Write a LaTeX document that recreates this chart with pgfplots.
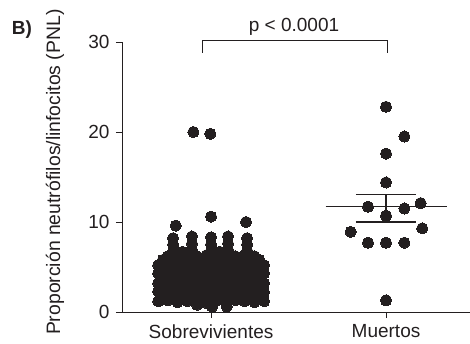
\documentclass[border=0pt]{standalone}
\usepackage{fontspec}
\setmainfont{Liberation Sans}
\usepackage{pgfplots}
\usepackage{pgfplotstable}
\pgfplotsset{compat=1.18}
\definecolor{ink}{HTML}{231F20}

% Sobrevivientes (x = group position with horizontal spread, y = PNL)
\pgfplotstableread{
x y
0.698 1.2
0.753 1.3
0.808 1.1
0.863 1.2
0.918 1.3
0.973 1.0
1.028 1.2
1.083 1.1
1.138 1.3
1.193 1.2
1.248 1.1
1.303 1.2
0.725 1.7
0.780 1.8
0.835 1.6
0.890 1.7
0.945 1.8
1.000 1.6
1.055 1.7
1.110 1.8
1.165 1.6
1.220 1.7
1.275 1.8
0.698 2.3
0.753 2.2
0.808 2.1
0.863 2.3
0.918 2.2
0.973 2.2
1.028 2.1
1.083 2.3
1.138 2.2
1.193 2.1
1.248 2.3
1.303 2.2
0.725 2.8
0.780 2.7
0.835 2.6
0.890 2.7
0.945 2.8
1.000 2.7
1.055 2.6
1.110 2.8
1.165 2.7
1.220 2.6
1.275 2.7
0.698 3.2
0.753 3.3
0.808 3.1
0.863 3.2
0.918 3.3
0.973 3.2
1.028 3.1
1.083 3.2
1.138 3.3
1.193 3.2
1.248 3.1
1.303 3.2
0.725 3.7
0.780 3.8
0.835 3.6
0.890 3.7
0.945 3.8
1.000 3.7
1.055 3.6
1.110 3.7
1.165 3.8
1.220 3.7
1.275 3.6
0.698 4.3
0.753 4.2
0.808 4.1
0.863 4.2
0.918 4.3
0.973 4.2
1.028 4.1
1.083 4.2
1.138 4.3
1.193 4.2
1.248 4.1
1.303 4.3
0.725 4.7
0.780 4.8
0.835 4.6
0.890 4.7
0.945 4.8
1.000 4.7
1.055 4.6
1.110 4.8
1.165 4.7
1.220 4.6
1.275 4.7
0.698 5.2
0.753 5.3
0.808 5.1
0.863 5.2
0.918 5.3
0.973 5.2
1.028 5.1
1.083 5.2
1.138 5.3
1.193 5.2
1.248 5.1
1.303 5.2
0.725 5.8
0.780 5.7
0.835 5.6
0.890 5.7
0.945 5.8
1.000 5.7
1.055 5.6
1.110 5.7
1.165 5.8
1.220 5.7
1.275 5.8
0.753 6.2
0.808 6.3
0.863 6.1
0.918 6.2
0.973 6.3
1.028 6.2
1.083 6.1
1.138 6.2
1.193 6.3
1.248 6.2
0.783 6.8
0.837 6.7
0.891 6.9
1.000 6.8
1.050 6.7
1.097 6.9
1.206 6.8
0.783 7.5
0.891 7.6
1.000 7.5
1.097 7.6
1.206 7.5
0.783 8.2
0.891 8.4
1.000 8.3
1.097 8.4
1.206 8.2
0.798 9.6
1.000 10.6
1.200 10.0
0.899 20.0
0.996 19.8
1.006 0.6
1.090 0.6
0.920 0.8
}\survivors

% Muertos
\pgfplotstableread{
x y
2.000 22.8
2.105 19.5
2.000 17.6
2.000 14.4
1.897 11.7
2.105 11.5
2.198 12.1
2.000 10.7
1.798 8.9
2.207 9.3
1.897 7.7
2.000 7.7
2.105 7.7
2.000 1.3
}\muertos

\begin{document}
\fontsize{19}{22}\selectfont
\begin{tikzpicture}
\useasboundingbox (0,0) rectangle (470pt,343pt);
\begin{axis}[
  at={(122pt,31pt)}, anchor=south west,
  scale only axis, width=348pt, height=270pt,
  xmin=0.491, xmax=2.48, ymin=0, ymax=30,
  axis x line=bottom, axis y line=left,
  axis line style={-, line width=0.8pt, ink},
  xtick={1,2}, xticklabels={Sobrevivientes,Muertos},
  ytick={0,10,20,30},
  tick align=outside, major tick length=6pt,
  tick style={ink, line width=0.8pt},
  every tick label/.append style={font=\fontsize{19}{22}\selectfont, text=ink},
  /pgf/number format/assume math mode=true,
  ylabel={Proporción neutrófilos/linfocitos (PNL)},
  ylabel style={at={(axis description cs:-0.1925,0.518)}, anchor=center, font=\fontsize{19.4}{23}\selectfont, text=ink},
  clip=false,
]
\addplot[only marks, mark=*, mark size=5.6pt, mark options={fill=ink, draw=ink, line width=0pt}] table[x=x, y=y] {\survivors};
\addplot[only marks, mark=*, mark size=5.6pt, mark options={fill=ink, draw=ink, line width=0pt}] table[x=x, y=y] {\muertos};
% mean and SEM for Muertos
\addplot[ink, line width=1.2pt] coordinates {(1.655,11.7) (2.35,11.7)};
\addplot[ink, line width=1.2pt] coordinates {(1.827,13.05) (2.171,13.05)};
\addplot[ink, line width=1.2pt] coordinates {(1.827,10.0) (2.171,10.0)};
\addplot[ink, line width=1.2pt] coordinates {(2,10.0) (2,13.05)};
% significance bracket
\addplot[ink, line width=1pt] coordinates {(0.949,28.8) (0.949,30.15) (2.011,30.15) (2.011,28.8)};
\node[anchor=base, text=ink] at (axis cs:1.474,31.2) {p < 0.0001};
\end{axis}
\node[anchor=base, text=ink, font=\fontsize{19}{22}\selectfont\bfseries] at (22pt,308pt) {B)};
\end{tikzpicture}
\end{document}
